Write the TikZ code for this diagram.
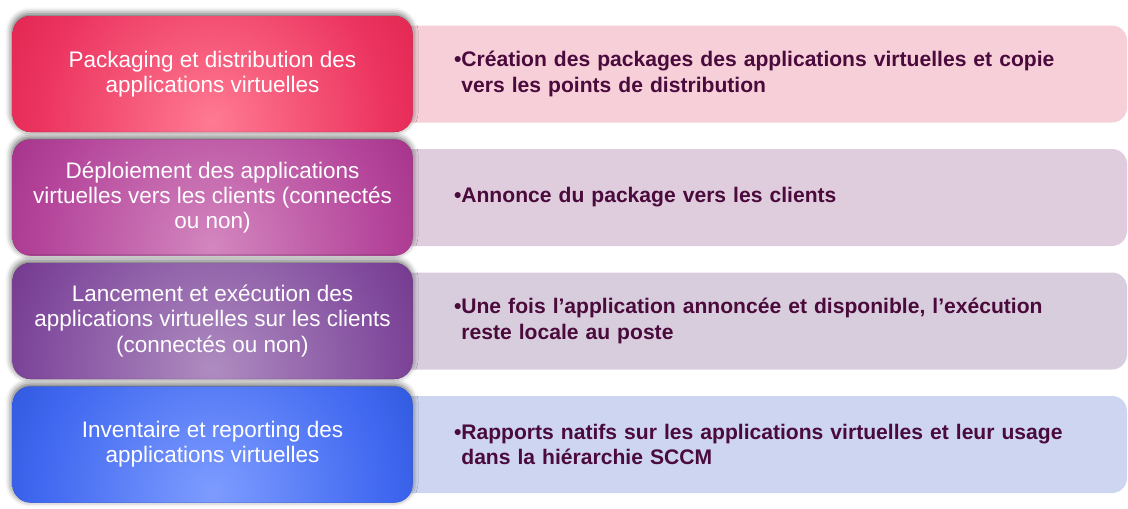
\documentclass[tikz,border=0pt]{standalone}
\usepackage{fontspec}
\setmainfont{Liberation Sans}
\usetikzlibrary{positioning,shadows.blur}

\definecolor{packlight}{HTML}{FF7A92}
\definecolor{packmid}{HTML}{EC3460}
\definecolor{packdark}{HTML}{C8062F}
\definecolor{depllight}{HTML}{D386BF}
\definecolor{deplmid}{HTML}{B4449A}
\definecolor{depldark}{HTML}{820A66}
\definecolor{lanclight}{HTML}{AE8CC0}
\definecolor{lancmid}{HTML}{824C9E}
\definecolor{lancdark}{HTML}{520A68}
\definecolor{invlight}{HTML}{7E9CFF}
\definecolor{invmid}{HTML}{4068F0}
\definecolor{invdark}{HTML}{0A36B8}
\definecolor{packpale}{HTML}{F6CFD8}
\definecolor{deplpale}{HTML}{DFCCDC}
\definecolor{lancpale}{HTML}{D8CDDD}
\definecolor{invpale}{HTML}{CDD5F0}
\definecolor{desctext}{HTML}{4A0A3C}

\pgfdeclareradialshading{packshade}{\pgfpoint{0bp}{0bp}}{color(0bp)=(packlight); color(18bp)=(packmid); color(38bp)=(packdark); color(50bp)=(packdark)}
\pgfdeclareradialshading{deplshade}{\pgfpoint{0bp}{0bp}}{color(0bp)=(depllight); color(18bp)=(deplmid); color(38bp)=(depldark); color(50bp)=(depldark)}
\pgfdeclareradialshading{lancshade}{\pgfpoint{0bp}{0bp}}{color(0bp)=(lanclight); color(18bp)=(lancmid); color(38bp)=(lancdark); color(50bp)=(lancdark)}
\pgfdeclareradialshading{invshade}{\pgfpoint{0bp}{0bp}}{color(0bp)=(invlight); color(18bp)=(invmid); color(38bp)=(invdark); color(50bp)=(invdark)}

\tikzset{
    stage/.style = {
        shape=rectangle,
        rounded corners=0.45cm,
        minimum width=10cm,
        minimum height=2.9cm,
        align=center,
        text=white,
        font=\fontsize{16}{18}\selectfont,
        blur shadow={shadow xshift=-0.5pt, shadow yshift=1.5pt, shadow blur radius=4.5pt, shadow opacity=65}
    },
    glow/.style = {
        fill=#1dark,
        path picture={\shade[shading=#1shade] ([yshift=0.25cm]path picture bounding box.south) circle (6cm);}
    },
    desc/.style = {
        shape=rectangle,
        rounded corners=0.375cm,
        minimum height=2.425cm,
        inner xsep=1.6cm,
        text width=15.225cm,
        align=left,
        text=desctext,
        font=\fontsize{15}{18}\selectfont\bfseries
    },
}

\begin{document}
\begin{tikzpicture}
    \useasboundingbox (0,0) rectangle (28.2,-12.7);

    % descriptions, behind the stages
    \node[desc, fill=packpale] (packdesc) at (18.9625,-1.85) {\textbullet Création des packages des applications virtuelles et copie\\\hphantom{\textbullet}vers les points de distribution};
    \node[desc, fill=deplpale] (depldesc) at (18.9625,-4.9375) {\textbullet Annonce du package vers les clients};
    \node[desc, fill=lancpale] (lancdesc) at (18.9625,-8.025) {\textbullet Une fois l’application annoncée et disponible, l’exécution\\\hphantom{\textbullet}reste locale au poste};
    \node[desc, fill=invpale] (invdesc) at (18.9625,-11.1125) {\textbullet Rapports natifs sur les applications virtuelles et leur usage\\\hphantom{\textbullet}dans la hiérarchie SCCM};

    % stages
    \node[stage, glow=pack] (pack) at (5.3125,-1.85) {Packaging et distribution des\\applications virtuelles};
    \node[stage, glow=depl] (depl) at (5.3125,-4.9375) {Déploiement des applications\\virtuelles vers les clients (connectés\\ou non)};
    \node[stage, glow=lanc] (lanc) at (5.3125,-8.025) {Lancement et exécution des\\applications virtuelles sur les clients\\(connectés ou non)};
    \node[stage, glow=inv] (inv) at (5.3125,-11.1125) {Inventaire et reporting des\\applications virtuelles};
\end{tikzpicture}
\end{document}
